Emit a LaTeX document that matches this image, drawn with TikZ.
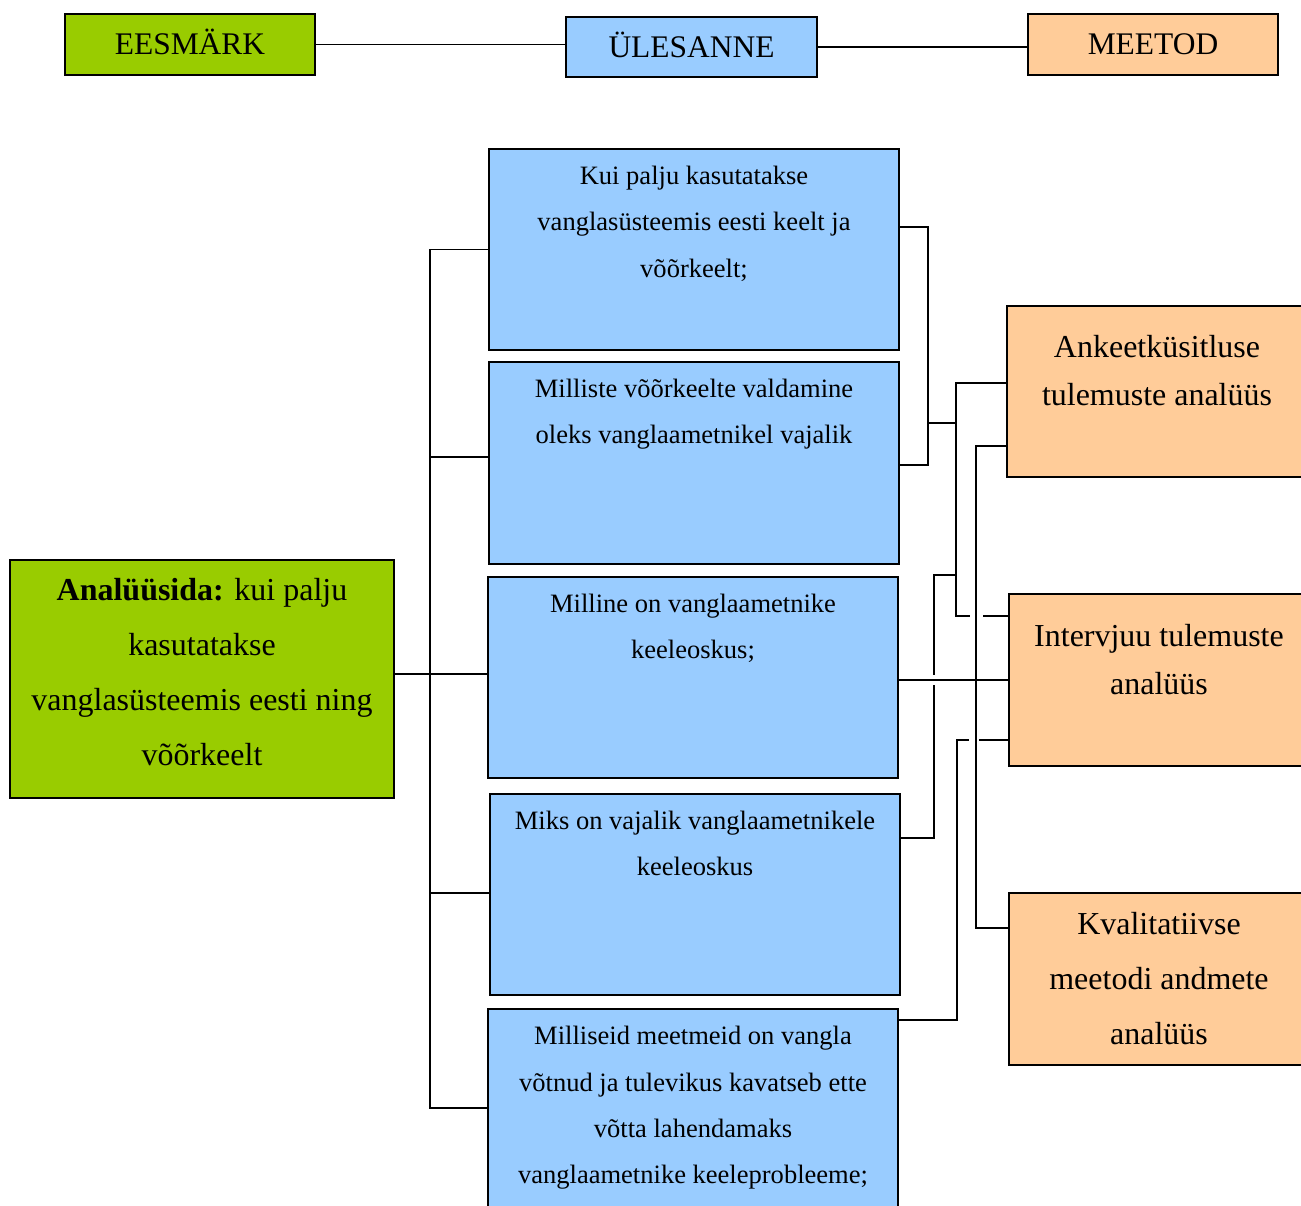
\documentclass[tikz,border=0pt]{standalone}
\usepackage{fontspec}
\setmainfont{Liberation Serif}
\usetikzlibrary{calc}
\definecolor{goalgreen}{HTML}{99CC00}
\definecolor{taskblue}{HTML}{99CCFF}
\definecolor{methodorange}{HTML}{FFCC99}
\def\px{0.02cm}
\tikzset{
  kast/.style={draw, line width=1.2pt, inner sep=0pt},
  headbox/.style={kast, minimum width=250*\px, minimum height=61*\px, font=\fontsize{17.9}{20}\selectfont, text height=11.8pt, text depth=0pt},
  goalbox/.style={kast, fill=goalgreen, minimum width=384*\px, minimum height=238*\px},
  taskbox/.style={kast, fill=taskblue, minimum width=410*\px, minimum height=201*\px},
  methodbox/.style={kast, fill=methodorange, minimum width=300*\px, minimum height=172*\px},
  tasktext/.style={anchor=base, text width=405*\px, align=flush center, inner sep=0pt, font=\fontsize{15.1}{26.2}\selectfont},
  bigtext/.style={anchor=base, text width=380*\px, align=flush center, inner sep=0pt, font=\fontsize{18.2}{31.3}\selectfont},
  methodtext/.style={bigtext, text width=290*\px, font=\fontsize{18.2}{27.3}\selectfont},
  conn/.style={line width=1.05pt}
}
\begin{document}
\begin{tikzpicture}[x=0.02cm, y=-0.02cm]
    \useasboundingbox (0,0) rectangle (1301,1205);
    \clip (0,0) rectangle (1301,1205);
    % Kopfzeile
    \node[headbox, fill=goalgreen] (tgoal) at (190,44.5) {EESMÄRK};
    \node[headbox, fill=taskblue, minimum width=251*\px, minimum height=60*\px] (ttask) at (691.5,47) {ÜLESANNE};
    \node[headbox, fill=methodorange] (tmethod) at (1153,44.5) {MEETOD};
    \draw[conn] (tgoal.east) -- (tgoal.east -| ttask.west);
    \draw[conn] (ttask.east) -- (ttask.east -| tmethod.west);
    % Eesmärk
    \node[goalbox] (goal) at (202,679) {};
    \node[bigtext] (goalt) at ($(goal.north)+(0,42)$) {\textbf{Analüüsida:} kui palju\\kasutatakse\\vanglasüsteemis eesti ning\\võõrkeelt};
    % Ülesanded
    \node[taskbox] (b1) at (694,249.5) {};
    \node[taskbox, minimum height=202*\px] (b2) at (694,463) {};
    \node[taskbox] (b3) at (693,677.5) {};
    \node[taskbox] (b4) at (695,894.5) {};
    \node[taskbox, minimum height=202*\px] (b5) at (693,1110) {};
    \node[tasktext] (b1t) at ($(b1.north)+(0,37)$) {Kui palju kasutatakse\\vanglasüsteemis eesti keelt ja\\võõrkeelt;};
    \node[tasktext] (b2t) at ($(b2.north)+(0,37)$) {Milliste võõrkeelte valdamine\\oleks vanglaametnikel vajalik};
    \node[tasktext] (b3t) at ($(b3.north)+(0,37)$) {Milline on vanglaametnike\\keeleoskus;};
    \node[tasktext] (b4t) at ($(b4.north)+(0,37)$) {Miks on vajalik vanglaametnikele\\keeleoskus};
    \node[tasktext] (b5t) at ($(b5.north)+(0,37)$) {Milliseid meetmeid on vangla\\võtnud ja tulevikus kavatseb ette\\võtta lahendamaks\\vanglaametnike keeleprobleeme;};
    % Meetodid
    \node[methodbox, minimum height=171*\px] (o1) at (1157,391.5) {};
    \node[methodbox] (o2) at (1159,680) {};
    \node[methodbox] (o3) at (1159,979) {};
    \node[methodtext] (o1t) at ($(o1.north)+(0,53)$) {Ankeetküsitluse\\tulemuste analüüs};
    \node[methodtext] (o2t) at ($(o2.north)+(0,54)$) {Intervjuu tulemuste\\analüüs};
    \node[bigtext, text width=290*\px] (o3t) at ($(o3.north)+(0,43)$) {Kvalitatiivse\\meetodi andmete\\analüüs};
    % Verbindungen links
    \draw[conn] (goal.east |- 0,674) -- (b3.west |- 0,674);
    \draw[conn] (b1.west) -| (430,1108) -- (b5.west |- 0,1108);
    \draw[conn] (b2.west |- 0,457) -- (430,457);
    \draw[conn] (b4.west |- 0,893) -- (430,893);
    % Verbindungen rechts
    \draw[conn] (b1.east |- 0,227) -| (928,465) -- (b2.east |- 0,465);
    \draw[conn] (928,423) -- (956,423);
    \draw[conn] (o1.west |- 0,383) -| (956,616) -- (970,616);
    \draw[conn] (983,616) -- (o2.west |- 0,616);
    \draw[conn] (956,575) -| (934,675);
    \draw[conn] (934,685) |- (b4.east |- 0,838);
    \draw[conn] (o1.west |- 0,446) -| (976,928) -- (o3.west |- 0,928);
    \draw[conn] (b3.east |- 0,680) -- (o2.west |- 0,680);
    \draw[conn] (o2.west |- 0,740) -- (979,740);
    \draw[conn] (969,740) -| (957,1020) -- (b5.east |- 0,1020);
\end{tikzpicture}
\end{document}
